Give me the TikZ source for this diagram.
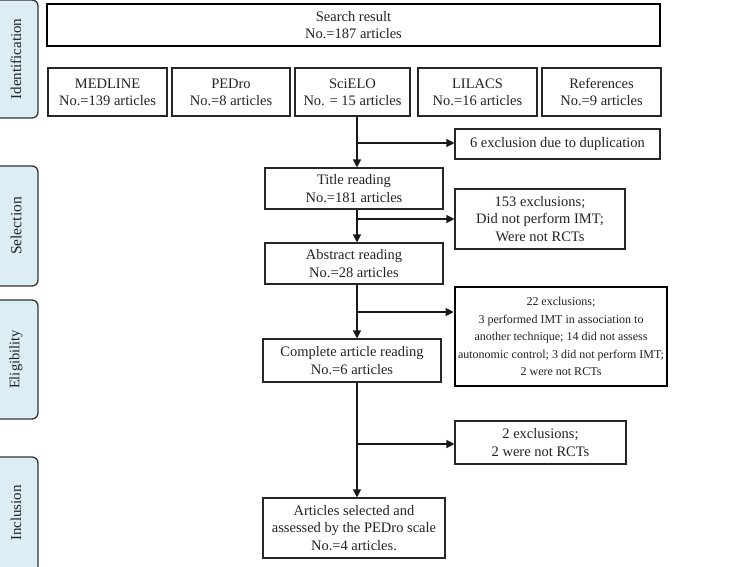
\documentclass[tikz,border=0pt]{standalone}
\usepackage{fontspec}
\setmainfont{Liberation Serif}
\usetikzlibrary{arrows.meta}
\definecolor{tabfill}{HTML}{DCEEF3}
\definecolor{txt}{HTML}{222222}
\tikzset{
  box/.style={draw=black!85, line width=1.1pt, fill=white, inner sep=0pt, align=center,
    font=\fontsize{14.5}{17.3}\selectfont, text=txt},
  thickbox/.style={box, line width=2.6pt, draw=black},
  tabbox/.style={draw=black!80, line width=1.3pt, fill=tabfill, rounded corners=6pt},
  tablabel/.style={rotate=90, text=txt},
  arr/.style={line width=1.2pt, draw=black!90, -{Triangle[width=8pt,length=8pt]}},
  ln/.style={line width=1.2pt, draw=black!90}
}
\begin{document}
\begin{tikzpicture}[x=1pt,y=-1pt]
\useasboundingbox (0,0) rectangle (741,566);
\clip (0,0) rectangle (741,566);
% phase tabs
\draw[tabbox] (-10,0) rectangle (38,118);
\node[tablabel, font=\fontsize{15}{18}\selectfont] (tid) at (16,59) {Identification};
\draw[tabbox] (-10,166) rectangle (38,286);
\node[tablabel, font=\fontsize{15.5}{18}\selectfont] (tsel) at (16,226) {Selection};
\draw[tabbox] (-10,300) rectangle (38,419);
\node[tablabel, font=\fontsize{14.5}{18}\selectfont] (tel) at (16,359.5) {Eligibility};
\draw[tabbox] (-10,457) rectangle (38,580);
\node[tablabel, font=\fontsize{15}{18}\selectfont] (tinc) at (16,513) {Inclusion};
% boxes
\node[thickbox, minimum width=613pt, minimum height=42pt] (search) at (353.5,25) {Search result\\No.=187 articles};
\node[box, minimum width=119pt, minimum height=48pt] (medline) at (107.5,92) {MEDLINE\\No.=139 articles};
\node[box, minimum width=118pt, minimum height=48pt] (pedro) at (231,92) {PEDro\\No.=8 articles};
\node[box, minimum width=115pt, minimum height=48pt] (scielo) at (352.5,92) {SciELO\\No. = 15 articles};
\node[box, minimum width=119pt, minimum height=48pt] (lilacs) at (477.5,92) {LILACS\\No.=16 articles};
\node[box, minimum width=119pt, minimum height=48pt] (refs) at (601.5,92) {References\\No.=9 articles};
\node[box, minimum width=205pt, minimum height=30pt] (dup) at (557.5,144) {6 exclusion due to duplication};
\node[box, minimum width=178pt, minimum height=41pt] (title) at (354,188.5) {Title reading\\No.=181 articles};
\node[box, minimum width=170pt, minimum height=60pt] (ex153) at (540,219) {153 exclusions;\\Did not perform IMT;\\Were not RCTs};
\node[box, minimum width=178pt, minimum height=41pt] (abstract) at (354,263.5) {Abstract reading\\No.=28 articles};
\node[thickbox, minimum width=212pt, minimum height=99pt, font=\fontsize{12}{17.5}\selectfont] (ex22) at (561,336.5) {22 exclusions;\\3 performed IMT in association to\\another technique; 14 did not assess\\autonomic control; 3 did not perform IMT;\\2 were not RCTs};
\node[box, minimum width=178pt, minimum height=43pt] (complete) at (352,360.5) {Complete article reading\\No.=6 articles};
\node[box, minimum width=171pt, minimum height=43pt] (ex2) at (540.5,442.5) {2 exclusions;\\2 were not RCTs};
\node[box, minimum width=182pt, minimum height=60pt] (final) at (354,528) {Articles selected and\\assessed by the PEDro scale\\No.=4 articles.};
% trunk coordinates
\coordinate (tx) at (357,0);
\coordinate (b1) at (357,143);
\coordinate (b2) at (357,219);
\coordinate (b3) at (357,312);
\coordinate (b4) at (357,444);
% connectors
\draw[arr] (scielo.south -| tx) -- (title.north -| tx);
\draw[arr] (b1) -- (dup.west |- b1);
\draw[arr] (title.south -| tx) -- (abstract.north -| tx);
\draw[arr] (b2) -- (ex153.west |- b2);
\draw[arr] (abstract.south -| tx) -- (complete.north -| tx);
\draw[arr] (b3) -- (ex22.west |- b3);
\draw[arr] (complete.south -| tx) -- (final.north -| tx);
\draw[arr] (b4) -- (ex2.west |- b4);
\end{tikzpicture}
\end{document}
